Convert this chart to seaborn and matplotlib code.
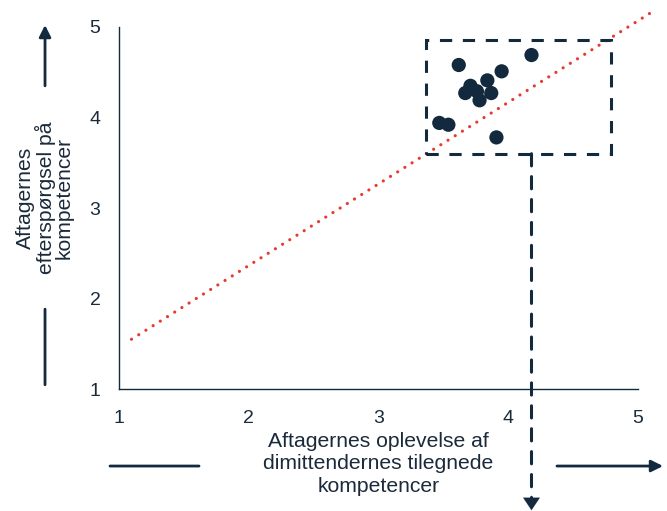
import matplotlib
matplotlib.use("Agg")
import matplotlib.pyplot as plt
from matplotlib.patches import Rectangle
import pandas as pd
import seaborn as sns

# Competence ratings: graduates' acquired competences (x) vs. employers' demand (y)
supply = [4.18, 3.62, 3.95, 3.84, 3.71, 3.67, 3.76, 3.87, 3.78, 3.47, 3.54, 3.91]
demand = [4.69, 4.58, 4.51, 4.41, 4.35, 4.27, 4.29, 4.27, 4.19, 3.94, 3.92, 3.78]

# Reference line (dotted)
ref_x = [1.10, 5.09]
ref_y = [1.55, 5.15]

# Highlighted region and the pointer leaving it
box_x = [3.37, 4.79]
box_y = [3.60, 4.86]
pointer_x = 4.18
pointer_end_y = -0.34

ticks = [1, 2, 3, 4, 5]
tick_labels = ["1", "2", "3", "4", "5"]

x_title = "Aftagernes oplevelse af\ndimittendernes tilegnede\nkompetencer"
y_title = "Aftagernes\nefterspørgsel på\nkompetencer"

NAVY = "#13293d"
TEXT = "#1b2a3a"
RED = "#e63a30"

sns.set_theme(style="white")
plt.rcParams["font.family"] = ["Liberation Sans", "DejaVu Sans"]

fig = plt.figure(figsize=(6.67, 5.11), dpi=100)
ax = fig.add_axes([0.1777, 0.2387, 0.7788, 0.7085])

df = pd.DataFrame({"supply": supply, "demand": demand})

# Dotted reference line
ax.plot(ref_x, ref_y, color=RED, lw=2.3, linestyle=(0, (0.01, 2.65)),
        dash_capstyle="round", clip_on=False, zorder=2)

sns.scatterplot(data=df, x="supply", y="demand", ax=ax, color=NAVY,
                s=105, edgecolor="none", zorder=4, clip_on=False)

# Dashed highlight box
dash = (0, (4, 3.5))
ax.add_patch(Rectangle((box_x[0], box_y[0]), box_x[1] - box_x[0], box_y[1] - box_y[0],
                       fill=False, edgecolor=NAVY, lw=2.2, linestyle=dash,
                       clip_on=False, zorder=3))

# Dashed pointer going down out of the box
ax.annotate("", xy=(pointer_x, pointer_end_y), xycoords="data",
            xytext=(0, 11), textcoords="offset points",
            arrowprops=dict(arrowstyle="-|>,head_length=0.45,head_width=0.3",
                            mutation_scale=20, color=NAVY, lw=0.1,
                            shrinkA=0, shrinkB=0),
            annotation_clip=False, zorder=3)
ax.annotate("", xy=(pointer_x, pointer_end_y), xycoords="data",
            xytext=(pointer_x, box_y[0]), textcoords="data",
            arrowprops=dict(arrowstyle="-", color=NAVY, lw=2.2, linestyle=dash,
                            shrinkA=0, shrinkB=9),
            annotation_clip=False, zorder=3)

ax.set_xlim(1, 5)
ax.set_ylim(1, 5)
ax.set_xticks(ticks)
ax.set_xticklabels(tick_labels)
ax.set_yticks(ticks)
ax.set_yticklabels(tick_labels)
ax.tick_params(axis="both", length=0, labelsize=14, labelcolor=TEXT)
ax.tick_params(axis="x", pad=15)
ax.tick_params(axis="y", pad=13)
ax.set_xlabel("")
ax.set_ylabel("")
for side in ["top", "right"]:
    ax.spines[side].set_visible(False)
for side in ["left", "bottom"]:
    ax.spines[side].set_color(NAVY)
    ax.spines[side].set_linewidth(1.0)

# Axis titles with direction arrows
fig.text(0.5676, 0.092, x_title, ha="center", va="center", fontsize=15.2,
         color=TEXT, linespacing=1.22)
fig.text(0.0675, 0.6125, y_title, ha="center", va="center", rotation=90,
         fontsize=15.2, color=TEXT, linespacing=0.97)

arrow_style = dict(arrowstyle="-|>,head_length=0.5,head_width=0.25",
                   mutation_scale=14, color=NAVY, lw=2.0, shrinkA=0, shrinkB=0)
line_style = dict(arrowstyle="-", color=NAVY, lw=2.0, shrinkA=0, shrinkB=0)

fig_tr = fig.transFigure
ax.annotate("", xy=(0.0675, 0.951), xycoords=fig_tr, xytext=(0.0675, 0.832),
            textcoords=fig_tr, arrowprops=arrow_style, annotation_clip=False)
ax.annotate("", xy=(0.0675, 0.247), xycoords=fig_tr, xytext=(0.0675, 0.395),
            textcoords=fig_tr, arrowprops=line_style, annotation_clip=False)
ax.annotate("", xy=(0.994, 0.088), xycoords=fig_tr, xytext=(0.835, 0.088),
            textcoords=fig_tr, arrowprops=arrow_style, annotation_clip=False)
ax.annotate("", xy=(0.2984, 0.088), xycoords=fig_tr, xytext=(0.1649, 0.088),
            textcoords=fig_tr, arrowprops=line_style, annotation_clip=False)

fig.savefig("out.png", dpi=100)
